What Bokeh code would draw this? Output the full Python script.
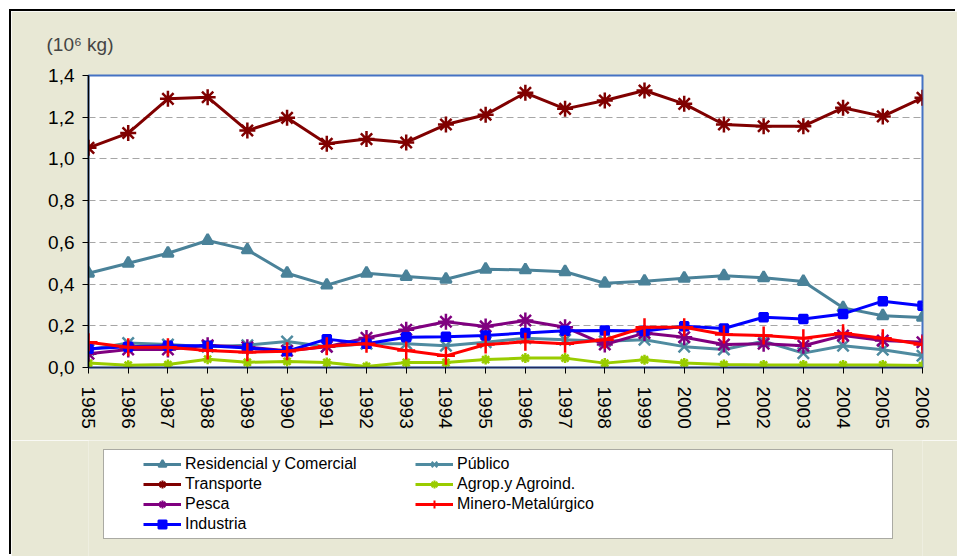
from bokeh.plotting import figure
from bokeh.models import Legend, LegendItem, FixedTicker, BoxAnnotation, Range1d
from bokeh.layouts import column
from bokeh.embed import file_html
from bokeh.resources import INLINE

years = list(range(1985, 2007))
y_ticks = [0.0, 0.2, 0.4, 0.6, 0.8, 1.0, 1.2, 1.4]
y_tick_labels = ["0,0", "0,2", "0,4", "0,6", "0,8", "1,0", "1,2", "1,4"]

residencial = [0.452, 0.500, 0.548, 0.609, 0.564, 0.452, 0.395, 0.452, 0.436, 0.423, 0.471,
               0.468, 0.459, 0.404, 0.414, 0.428, 0.440, 0.430, 0.412, 0.286, 0.248, 0.240]
publico = [0.085, 0.117, 0.110, 0.100, 0.107, 0.125, 0.100, 0.114, 0.114, 0.104, 0.121,
           0.140, 0.133, 0.126, 0.133, 0.100, 0.086, 0.126, 0.069, 0.104, 0.085, 0.056]
transporte = [1.053, 1.124, 1.288, 1.296, 1.136, 1.197, 1.073, 1.095, 1.079, 1.165, 1.212,
              1.317, 1.240, 1.280, 1.328, 1.264, 1.165, 1.157, 1.157, 1.245, 1.204, 1.293]
agrop = [0.021, 0.011, 0.014, 0.040, 0.025, 0.029, 0.024, 0.005, 0.024, 0.024, 0.038,
         0.045, 0.045, 0.021, 0.037, 0.022, 0.014, 0.012, 0.012, 0.012, 0.012, 0.009]
pesca = [0.066, 0.086, 0.086, 0.107, 0.097, 0.080, 0.100, 0.142, 0.181, 0.219, 0.197,
         0.225, 0.193, 0.110, 0.165, 0.145, 0.110, 0.114, 0.104, 0.153, 0.129, 0.121]
minero = [0.121, 0.097, 0.097, 0.081, 0.073, 0.078, 0.102, 0.114, 0.081, 0.056, 0.110,
          0.123, 0.114, 0.133, 0.193, 0.193, 0.158, 0.153, 0.140, 0.164, 0.140, 0.110]
industria = [0.090, 0.100, 0.104, 0.104, 0.093, 0.078, 0.136, 0.114, 0.145, 0.147, 0.153,
             0.166, 0.176, 0.177, 0.175, 0.198, 0.187, 0.241, 0.233, 0.257, 0.318, 0.296]

OFF = 11              # white page strip above / left of the chart area
W = 957 - OFF
H1, H2 = 440 - OFF, 116
BEIGE = "#E8E8D5"
FONT = "Liberation Sans"

p = figure(width=W, height=H1, output_backend="svg", toolbar_location=None,
           x_range=(1985, 2006), y_range=(0, 1.4),
           min_border_left=88 - OFF, min_border_right=35, min_border_top=75 - OFF,
           min_border_bottom=73,
           background_fill_color="white", border_fill_color=BEIGE)

p.outline_line_color = "#4472C4"
p.outline_line_width = 2

p.yaxis.ticker = FixedTicker(ticks=y_ticks)
p.yaxis.major_label_overrides = {t: l for t, l in zip(y_ticks, y_tick_labels)}
p.xaxis.ticker = FixedTicker(ticks=years)
p.xaxis.major_label_orientation = "vertical"
for ax in (p.xaxis[0], p.yaxis[0]):
    ax.major_label_text_font = FONT
    ax.major_label_text_font_size = "19px"
    ax.major_label_text_color = "black"
    ax.axis_line_color = "black"
    ax.axis_line_width = 1.5
    ax.major_tick_line_color = "black"
    ax.major_tick_out = 6
    ax.major_tick_in = 0
    ax.minor_tick_line_color = None
p.yaxis.major_label_standoff = 8
p.xaxis.major_label_standoff = 13
p.xaxis.axis_line_color = "#1F2A5C"

p.xgrid.grid_line_color = None
p.ygrid.grid_line_color = "#A6A6A6"
p.ygrid.grid_line_dash = "7 4"
p.ygrid.grid_line_width = 1

p.title.text = "(10\u2076 kg)"
p.title.text_font = FONT
p.title.text_font_size = "19px"
p.title.text_font_style = "normal"
p.title.align = "left"
p.title.offset = -42
p.title.standoff = 41

series = [
    ("Residencial y Comercial", residencial, "#4A8299", "triangle", 11),
    ("Público", publico, "#4F8BA0", "x", 16),
    ("Transporte", transporte, "#800000", "asterisk", 16),
    ("Agrop.y Agroind.", agrop, "#99CC00", "asterisk", 10),
    ("Pesca", pesca, "#800080", "asterisk", 16),
    ("Industria", industria, "#0000FF", "square", 8),
    ("Minero-Metalúrgico", minero, "#FF0000", "cross", 18),
]

# legend strip under the chart; its frame is aligned with the chart frame (page x 88..922)
q = figure(width=W, height=H2, output_backend="svg", toolbar_location=None,
           x_range=Range1d(88, 922), y_range=Range1d(H2, 0),
           x_axis_type=None, y_axis_type=None,
           min_border_left=88 - OFF, min_border_right=35,
           min_border_top=0, min_border_bottom=0,
           background_fill_color=BEIGE, border_fill_color=BEIGE)
q.outline_line_color = None
q.grid.visible = False

q.add_layout(BoxAnnotation(left=103, right=892, top=9, bottom=98,
                           fill_color="white", fill_alpha=1.0,
                           line_color="black", line_width=1))

rends = {}
for name, vals, col, mk, sz in series:
    p.line(years, vals, line_color=col, line_width=3)
    p.scatter(years, vals, marker=mk, size=sz, line_color=col, fill_color=col, line_width=2.5)
    # hidden proxies carrying the same styles, used only for the legend swatches
    lq = q.line(years, vals, line_color=col, line_width=3, visible=False)
    sq = q.scatter(years, vals, marker=mk, size=sz, line_color=col, fill_color=col,
                   line_width=2, visible=False)
    rends[name] = [lq, sq]

order = ["Residencial y Comercial", "Transporte", "Pesca", "Industria",
         "Público", "Agrop.y Agroind.", "Minero-Metalúrgico"]
items = [LegendItem(label=n, renderers=rends[n]) for n in order]
legend = Legend(items=items, location=(55, 22), ncols=2,
                padding=4, margin=0, spacing=0,
                glyph_width=38, glyph_height=20, label_height=20,
                label_width=230, label_standoff=4,
                label_text_font=FONT, label_text_font_size="16px",
                label_text_color="black",
                inactive_fill_alpha=0,
                background_fill_alpha=0, border_line_color=None)
q.add_layout(legend, "center")

layout = column(p, q, spacing=0,
                styles={"margin": f"{OFF}px 0 0 {OFF}px",
                        "box-shadow": "-2px -2px 0 0 #000000"})
open("out.html", "w").write(file_html(layout, INLINE))
